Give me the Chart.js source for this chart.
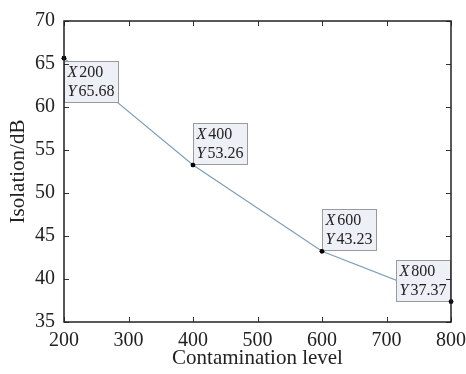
<!DOCTYPE html>
<html><head><meta charset="utf-8">
<script src="https://cdn.jsdelivr.net/npm/chart.js@4/dist/chart.umd.min.js"></script>
<style>html,body{margin:0;padding:0;background:#fff}#wrap{width:466px;height:374px}</style>
</head><body><div id="wrap"><canvas id="c" width="466" height="374"></canvas></div>
<script>
const contamination = [200, 400, 600, 800];
const isolation = [65.68, 53.26, 43.23, 37.37];
const xTicks = [200, 300, 400, 500, 600, 700, 800];
const yTicks = [35, 40, 45, 50, 55, 60, 65, 70];
const xTitle = 'Contamination level';
const yTitle = 'Isolation/dB';

const SERIF = '"Liberation Serif", "Times New Roman", serif';

const frame = {
  id: 'frame',
  afterDraw(chart) {
    const {ctx, chartArea: a, scales: {x, y}} = chart;
    ctx.save();
    ctx.strokeStyle = '#333';
    ctx.lineWidth = 1;
    xTicks.forEach(v => {
      const px = Math.round(x.getPixelForValue(v)) + 0.5;
      ctx.beginPath(); ctx.moveTo(px, a.bottom); ctx.lineTo(px, a.bottom - 5); ctx.stroke();
      ctx.beginPath(); ctx.moveTo(px, a.top); ctx.lineTo(px, a.top + 5); ctx.stroke();
    });
    yTicks.forEach(v => {
      const py = Math.round(y.getPixelForValue(v)) + 0.5;
      ctx.beginPath(); ctx.moveTo(a.left, py); ctx.lineTo(a.left + 5, py); ctx.stroke();
      ctx.beginPath(); ctx.moveTo(a.right, py); ctx.lineTo(a.right - 5, py); ctx.stroke();
    });
    ctx.strokeStyle = '#222';
    ctx.lineWidth = 1.5;
    ctx.strokeRect(a.left, a.top, a.right - a.left, a.bottom - a.top);
    ctx.restore();
  }
};

const tips = {
  id: 'tips',
  afterDatasetsDraw(chart) {
    const {ctx, scales: {x, y}} = chart;
    // corner of the box that sits at the point: tl, bl, bl, br
    const corner = ['tl', 'bl', 'bl', 'br'];
    ctx.save();
    contamination.forEach((cv, i) => {
      const px = x.getPixelForValue(cv);
      const py = y.getPixelForValue(isolation[i]);
      const w = 54, h = 41;
      let bx, by;
      const c = corner[i];
      if (c === 'tl') { bx = px; by = py + 2.5; }
      else if (c === 'bl') { bx = px; by = py - 1 - h; }
      else { bx = px - 1 - w; by = py - 1 - h; }
      bx = Math.round(bx) + 0.5; by = Math.round(by) + 0.5;
      ctx.fillStyle = '#eef0f7';
      ctx.fillRect(bx, by, w, h);
      ctx.strokeStyle = '#9a9a9a';
      ctx.lineWidth = 1;
      ctx.strokeRect(bx, by, w, h);
      ctx.fillStyle = '#222';
      ctx.textBaseline = 'alphabetic';
      ctx.textAlign = 'left';
      const lines = [['X', String(cv)], ['Y', isolation[i].toFixed(2)]];
      lines.forEach((ln, k) => {
        const ty = by + 15 + k * 19;
        ctx.font = 'italic 16px ' + SERIF;
        ctx.fillText(ln[0], bx + 3, ty);
        const wx = ctx.measureText(ln[0]).width;
        ctx.font = '16px ' + SERIF;
        ctx.fillText(ln[1], bx + 3 + wx + 2, ty);
      });
      ctx.fillStyle = '#000';
      ctx.beginPath(); ctx.arc(px, py, 2.3, 0, Math.PI * 2); ctx.fill();
    });
    ctx.restore();
  }
};

new Chart(document.getElementById('c'), {
  type: 'line',
  data: {
    datasets: [{
      data: contamination.map((v, i) => ({x: v, y: isolation[i]})),
      borderColor: '#7d9fb8',
      borderWidth: 1.2,
      pointRadius: 2.3,
      pointBackgroundColor: '#000',
      pointBorderWidth: 0,
      tension: 0,
      clip: false
    }]
  },
  options: {
    responsive: false,
    animation: false,
    devicePixelRatio: 1,
    layout: {padding: {left: 0, right: 15, top: 20, bottom: 0}},
    plugins: {legend: {display: false}, tooltip: {enabled: false}},
    scales: {
      x: {
        type: 'linear', min: 200, max: 800,
        afterBuildTicks: s => { s.ticks = xTicks.map(v => ({value: v})); },
        afterFit: s => { s.height = 52; s.paddingRight = 0; },
        grid: {display: false, drawTicks: false},
        border: {display: false},
        ticks: {padding: 7, color: '#222', font: {family: SERIF, size: 20}, maxRotation: 0},
        title: {display: true, text: xTitle, color: '#222', font: {family: SERIF, size: 21}, padding: {top: 0, bottom: 3}}
      },
      y: {
        type: 'linear', min: 35, max: 70,
        afterBuildTicks: s => { s.ticks = yTicks.map(v => ({value: v})); },
        afterFit: s => { s.width = 64; },
        grid: {display: false, drawTicks: false},
        border: {display: false},
        ticks: {padding: 9, color: '#222', font: {family: SERIF, size: 20}},
        title: {display: true, text: yTitle, color: '#222', font: {family: SERIF, size: 21}, padding: {top: 6, bottom: 0}}
      }
    }
  },
  plugins: [frame, tips]
});
</script>
</body></html>
